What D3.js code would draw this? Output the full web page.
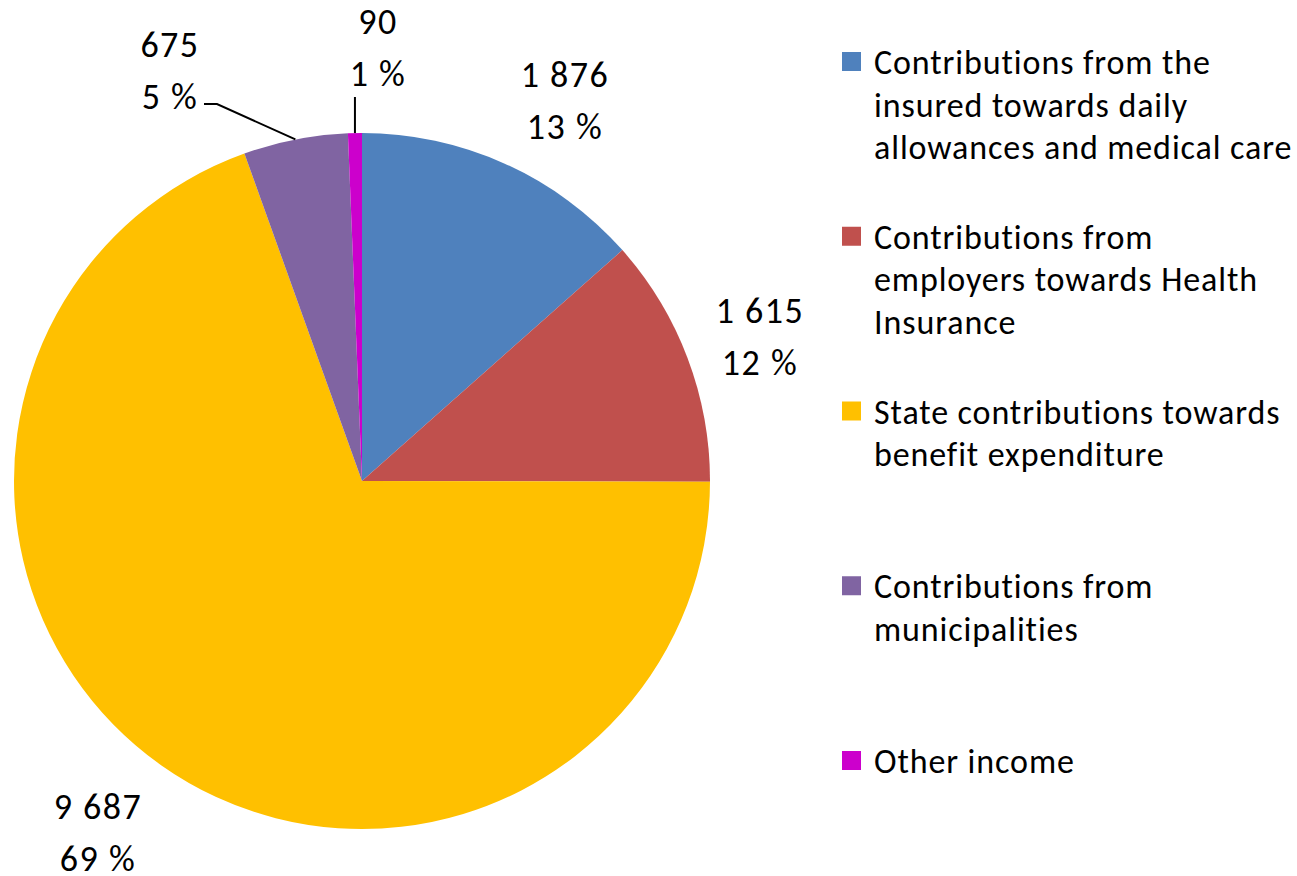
<!DOCTYPE html>
<html>
<head>
<meta charset="utf-8">
<script src="https://cdn.jsdelivr.net/npm/d3@7"></script>
<style>
  html, body { margin: 0; padding: 0; background: #fff; }
  svg text { font-family: Carlito, Lato, "Open Sans", sans-serif; fill: #000; }
  .legend-text { letter-spacing: 0.9px; }
  .data-label { letter-spacing: 1.5px; }
</style>
</head>
<body>
<svg id="chart" width="1297" height="876"></svg>
<script>
// Income sources (values) and their legend wording
const categories = [
  "Contributions from the insured towards daily allowances and medical care",
  "Contributions from employers towards Health Insurance",
  "State contributions towards benefit expenditure",
  "Contributions from municipalities",
  "Other income"
];
const legendLines = [
  ["Contributions from the", "insured towards daily", "allowances and medical care"],
  ["Contributions from", "employers towards Health", "Insurance"],
  ["State contributions towards", "benefit expenditure"],
  ["Contributions from", "municipalities"],
  ["Other income"]
];
const values = [1876, 1615, 9687, 675, 90];
const valueLabels = ["1 876", "1 615", "9 687", "675", "90"];
const percentLabels = ["13 %", "12 %", "69 %", "5 %", "1 %"];
const colors = ["#4F81BD", "#C0504D", "#FFC000", "#8064A2", "#CC00CC"];

// Label placement: offset of the label block centre from the pie centre
const labelOffsets = [[203, -380], [398, -144], [-264, 352], [-192, -410], [16, -433]];
const leaderSlices = [3, 4];

const svg = d3.select("#chart");
const cx = 362, cy = 481, radius = 348;
const legendFont = 34, labelFont = 36, lineGap = 52;

const pie = d3.pie().sort(null).value(d => d)(values);
const arc = d3.arc().innerRadius(0).outerRadius(radius);

const g = svg.append("g").attr("transform", `translate(${cx},${cy})`);

g.selectAll("path.slice")
  .data(pie)
  .join("path")
  .attr("class", "slice")
  .attr("d", arc)
  .attr("fill", (d, i) => colors[i]);

// Leader lines for the two small slices
const edge = d => {
  const a = (d.startAngle + d.endAngle) / 2;
  return [radius * Math.sin(a), -radius * Math.cos(a)];
};
leaderSlices.forEach(i => {
  const d = pie[i];
  const [ex, ey] = edge(d);
  const [lx, ly] = labelOffsets[i];
  let pts;
  if (i === 3) {
    const yEnd = ly + lineGap / 2 + 7;
    pts = [[ex, ey], [lx + 47, yEnd], [lx + 34, yEnd]];
  } else {
    pts = [[ex, ey], [ex, ly + lineGap / 2 + 23]];
  }
  g.append("path")
    .attr("d", d3.line()(pts))
    .attr("fill", "none")
    .attr("stroke", "#000")
    .attr("stroke-width", 2);
});

// Data labels: value on first line, share on second
pie.forEach((d, i) => {
  const [lx, ly] = labelOffsets[i];
  const t = g.append("text")
    .attr("class", "data-label")
    .attr("text-anchor", "middle")
    .attr("font-size", labelFont);
  t.append("tspan").attr("x", lx).attr("y", ly - lineGap / 2 + 12).text(valueLabels[i]);
  t.append("tspan").attr("x", lx).attr("y", ly + lineGap / 2 + 12).text(percentLabels[i]);
});

// Legend
const legendY = d3.scaleLinear().domain([0, 4]).range([62, 761]);
const legend = svg.append("g");
categories.forEach((c, i) => {
  const y0 = legendY(i);
  legend.append("rect")
    .attr("x", 842).attr("y", y0 - 10)
    .attr("width", 19).attr("height", 19)
    .attr("fill", colors[i]);
  const t = legend.append("text").attr("class", "legend-text").attr("font-size", legendFont);
  legendLines[i].forEach((line, k) => {
    t.append("tspan").attr("x", 874).attr("y", y0 + 12 + k * 42.5).text(line);
  });
});
</script>
</body>
</html>
